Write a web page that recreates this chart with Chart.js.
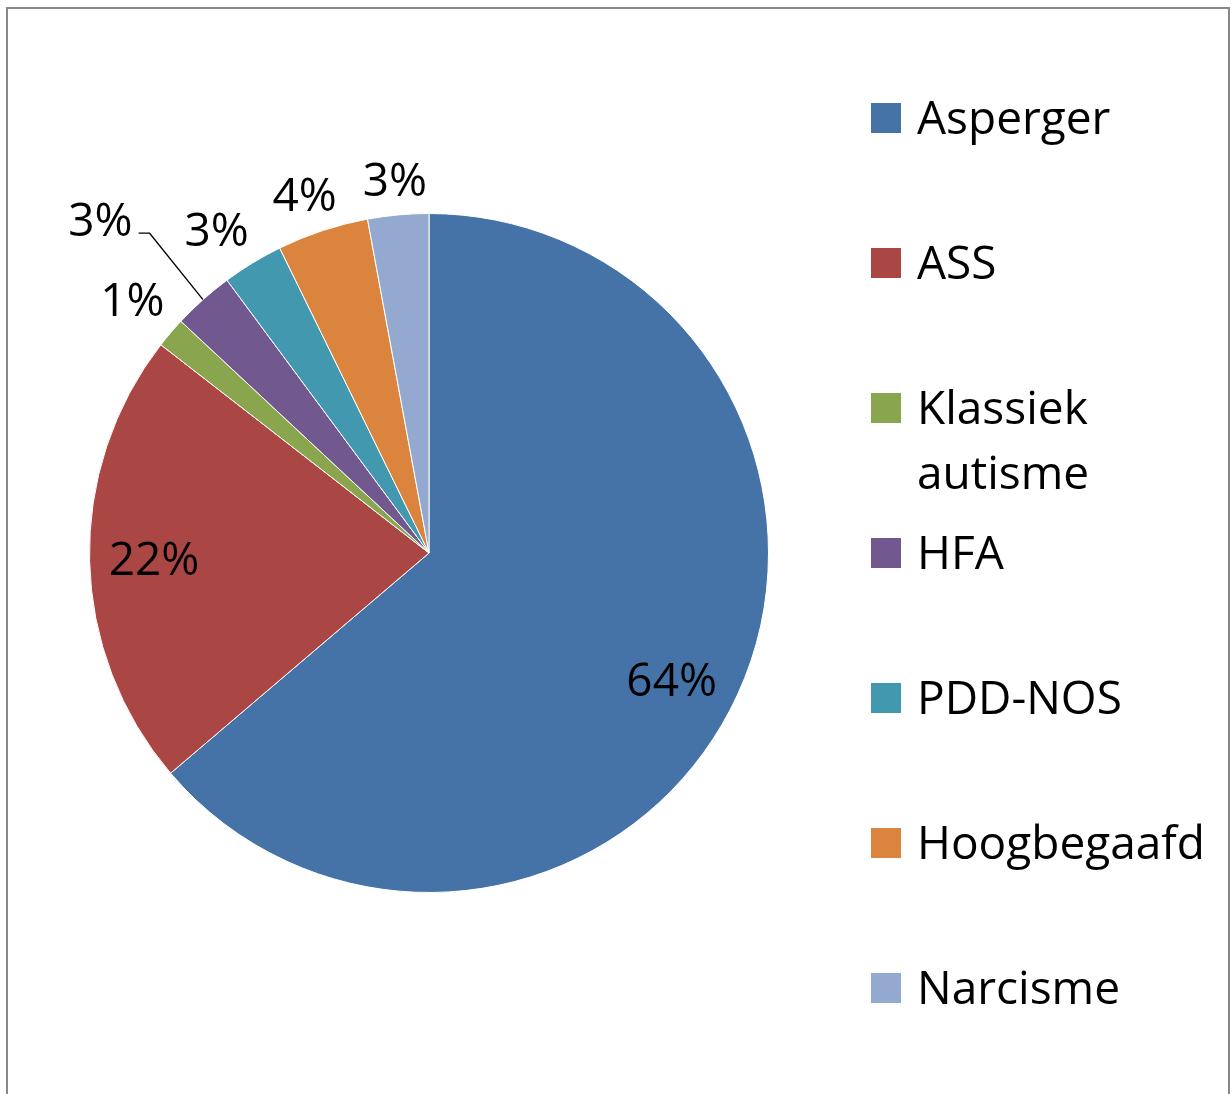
<!DOCTYPE html>
<html>
<head>
<meta charset="utf-8">
<title>Verdeling diagnoses</title>
<script src="https://cdn.jsdelivr.net/npm/chart.js@4.4.1/dist/chart.umd.min.js"></script>
<style>
    html, body { margin: 0; padding: 0; background: #fff; }
    #wrap { width: 1231px; height: 1094px; }
</style>
</head>
<body>
<div id="wrap"><canvas id="pieChart" width="1231" height="1094"></canvas></div>
<script>
// Data (counts; labels are the rounded shares)
const categories = ['Asperger', 'ASS', 'Klassiek autisme', 'HFA', 'PDD-NOS', 'Hoogbegaafd', 'Narcisme'];
const counts = [44, 15, 1, 2, 2, 3, 2];
const sliceColors = ['#4572A7', '#AA4643', '#89A54E', '#71588F', '#4198AF', '#DB843D', '#93A9CF'];

const FONT = '"Open Sans", "Liberation Sans", sans-serif';
const FONT_SIZE = 46;
const CAP_HALF = 16;

// legend layout on the right
const legendTop = 118;
const legendStep = 145;
const legendX = 871;
const legendTextX = 917;
const legendMaxWidth = 300;
const legendLineGap = 65;

// Excel's "best fit" shifted a few labels; HFA got a leader line
const labelNudge = {
    0: { dx: -7, dy: 12 },
    3: { dx: -70, dy: -43, leader: true },
    4: { dx: -12, dy: 6 },
    5: { dx: -5, dy: 4 }
};

const framePlugin = {
    id: 'frame',
    beforeDraw(chart) {
        const ctx = chart.ctx;
        ctx.save();
        ctx.strokeStyle = '#888888';
        ctx.lineWidth = 2;
        ctx.strokeRect(7, 8, 1222, 1200);
        ctx.restore();
    }
};

const pctLabelPlugin = {
    id: 'pctLabels',
    afterDatasetsDraw(chart) {
        const ctx = chart.ctx;
        const data = chart.data.datasets[0].data;
        const total = data.reduce((a, b) => a + b, 0);
        const meta = chart.getDatasetMeta(0);

        ctx.save();
        ctx.font = `${FONT_SIZE}px ${FONT}`;
        ctx.fillStyle = '#000';
        ctx.textAlign = 'center';
        ctx.textBaseline = 'alphabetic';

        meta.data.forEach((arc, i) => {
            const p = arc.getProps(['x', 'y', 'startAngle', 'endAngle', 'outerRadius'], true);
            const mid = (p.startAngle + p.endAngle) / 2;
            const cos = Math.cos(mid), sin = Math.sin(mid);
            const share = data[i] / total * 100;
            const text = Math.round(share) + '%';
            const w = ctx.measureText(text).width;
            let cx, cy;

            if (share >= 10) {
                cx = p.x + cos * p.outerRadius * 0.81;
                cy = p.y + sin * p.outerRadius * 0.81;
            } else {
                const dist = p.outerRadius + 14 + Math.abs(cos) * w / 2 + Math.abs(sin) * 18;
                cx = p.x + cos * dist;
                cy = p.y + sin * dist;
            }

            const nudge = labelNudge[i];
            if (nudge) {
                cx += nudge.dx;
                cy += nudge.dy;
                if (nudge.leader) {
                    const edgeX = p.x + cos * p.outerRadius;
                    const edgeY = p.y + sin * p.outerRadius;
                    const right = cx + w / 2;
                    ctx.beginPath();
                    ctx.strokeStyle = '#000';
                    ctx.lineWidth = 1.3;
                    ctx.moveTo(edgeX, edgeY);
                    ctx.lineTo(right + 17, cy + 13);
                    ctx.lineTo(right + 6, cy + 13);
                    ctx.stroke();
                }
            }

            ctx.fillText(text, cx, cy + CAP_HALF);
        });
        ctx.restore();
    }
};

function wrapWords(ctx, text, maxWidth) {
    const words = text.split(' ');
    const lines = [];
    let line = '';
    words.forEach(word => {
        const test = line ? line + ' ' + word : word;
        if (line && ctx.measureText(test).width > maxWidth) {
            lines.push(line);
            line = word;
        } else {
            line = test;
        }
    });
    lines.push(line);
    return lines;
}

const sideLegendPlugin = {
    id: 'sideLegend',
    afterDraw(chart) {
        const ctx = chart.ctx;
        const labels = chart.data.labels;
        const colors = chart.data.datasets[0].backgroundColor;
        ctx.save();
        ctx.font = `${FONT_SIZE}px ${FONT}`;
        ctx.textAlign = 'left';
        ctx.textBaseline = 'alphabetic';

        labels.forEach((label, i) => {
            const y = legendTop + i * legendStep;
            ctx.fillStyle = colors[i];
            ctx.fillRect(legendX, y - 15, 30, 30);
            ctx.fillStyle = '#000';
            wrapWords(ctx, label, legendMaxWidth).forEach((line, k) => {
                ctx.fillText(line, legendTextX, y + CAP_HALF + k * legendLineGap);
            });
        });
        ctx.restore();
    }
};

new Chart(document.getElementById('pieChart'), {
    type: 'pie',
    data: {
        labels: categories,
        datasets: [{
            data: counts,
            backgroundColor: sliceColors,
            borderColor: '#ffffff',
            borderWidth: 1,
            hoverOffset: 0
        }]
    },
    options: {
        responsive: false,
        animation: false,
        devicePixelRatio: 1,
        layout: { padding: { left: 89, top: 213, right: 462, bottom: 201 } },
        plugins: {
            legend: { display: false },
            tooltip: { enabled: false }
        }
    },
    plugins: [framePlugin, pctLabelPlugin, sideLegendPlugin]
});
</script>
</body>
</html>
